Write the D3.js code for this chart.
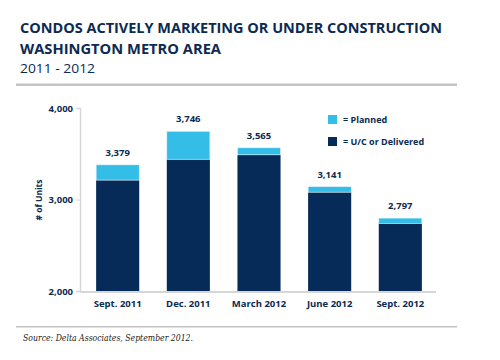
<!DOCTYPE html>
<html><head><meta charset="utf-8">
<script src="https://cdn.jsdelivr.net/npm/d3@7"></script>
<style>body{margin:0;background:#fff}svg{display:block}</style>
</head><body>
<script>
const categories = ["Sept. 2011","Dec. 2011","March 2012","June 2012","Sept. 2012"];
const ucDelivered = [3212, 3440, 3488, 3080, 2740];
const totals = [3379, 3746, 3565, 3141, 2797];
const planned = totals.map((t,i)=>t-ucDelivered[i]);
const yTicks = [2000, 3000, 4000];
const seriesNames = ["= Planned","= U/C or Delivered"];
const colors = {planned:"#34bde6", uc:"#072b58"};
const navy = "#0c2a52";

const W=500,H=360;
const svg=d3.select("body").append("svg").attr("width",W).attr("height",H);

// titles
const fontT = "'Open Sans', sans-serif";
svg.append("text").attr("x",20).attr("y",33).attr("font-family",fontT).attr("font-weight",700)
  .attr("font-size",15).attr("fill",navy).attr("textLength",422).attr("lengthAdjust","spacingAndGlyphs")
  .text("CONDOS ACTIVELY MARKETING OR UNDER CONSTRUCTION");
svg.append("text").attr("x",20).attr("y",54).attr("font-family",fontT).attr("font-weight",700)
  .attr("font-size",15).attr("fill",navy).attr("textLength",201).attr("lengthAdjust","spacingAndGlyphs")
  .text("WASHINGTON METRO AREA");
svg.append("text").attr("x",20).attr("y",73).attr("font-family",fontT)
  .attr("font-size",13).attr("fill",navy).attr("textLength",75).attr("lengthAdjust","spacingAndGlyphs")
  .text("2011 - 2012");
svg.append("rect").attr("x",16).attr("y",83.5).attr("width",441).attr("height",2.5).attr("fill","#c4c4c4");
svg.append("rect").attr("x",16).attr("y",326).attr("width",441).attr("height",1.5).attr("fill","#c4c4c4");
svg.append("text").attr("x",23).attr("y",341).attr("font-family","'DejaVu Serif', serif").attr("font-style","italic")
  .attr("font-size",9.5).attr("fill","#1a1a1a").attr("textLength",170).attr("lengthAdjust","spacingAndGlyphs")
  .text("Source: Delta Associates, September 2012.");

const x=d3.scaleBand().domain(categories).range([82,436]).paddingInner(0.39).paddingOuter(0.2);
const y=d3.scaleLinear().domain([2000,4000]).range([291,108]);

// axes
const gy=svg.append("g").attr("transform","translate(80,0)")
  .call(d3.axisLeft(y).tickValues(yTicks).tickFormat(d3.format(",")).tickSize(4));
gy.select(".domain").attr("stroke","#d6d6d6").attr("stroke-width",1.5);
gy.selectAll(".tick line").attr("stroke","#d6d6d6");
gy.selectAll(".tick text").attr("font-family",fontT).attr("font-weight",700).attr("font-size",9.5).attr("fill",navy).attr("x",-7);

const gx=svg.append("g").attr("transform","translate(0,291)")
  .call(d3.axisBottom(x).tickSize(0).tickPadding(9));
gx.select(".domain").remove();
gx.selectAll(".tick text").attr("font-family",fontT).attr("font-weight",700).attr("font-size",9.5).attr("fill",navy);
svg.append("line").attr("x1",80).attr("x2",436).attr("y1",292).attr("y2",292).attr("stroke","#d6d6d6").attr("stroke-width",2);

svg.append("text").attr("transform","translate(42,200) rotate(-90)").attr("text-anchor","middle")
  .attr("font-family",fontT).attr("font-weight",700).attr("font-size",8.5).attr("fill",navy).text("# of Units");

// bars
const g=svg.append("g");
categories.forEach((c,i)=>{
  g.append("rect").attr("x",x(c)).attr("width",x.bandwidth()).attr("y",y(ucDelivered[i]))
    .attr("height",y(2000)-y(ucDelivered[i])).attr("fill",colors.uc);
  g.append("rect").attr("x",x(c)).attr("width",x.bandwidth()).attr("y",y(totals[i]))
    .attr("height",y(ucDelivered[i])-y(totals[i])).attr("fill",colors.planned)
    .attr("stroke","#e8f6fb").attr("stroke-width",0.6);
  g.append("text").attr("x",x(c)+x.bandwidth()/2).attr("y",y(totals[i])-9).attr("text-anchor","middle")
    .attr("font-family",fontT).attr("font-weight",700).attr("font-size",9.5).attr("fill",navy)
    .text(d3.format(",")(totals[i]));
});

// legend
const leg=[{n:seriesNames[0],c:colors.planned,y:115},{n:seriesNames[1],c:colors.uc,y:137}];
leg.forEach(l=>{
  svg.append("rect").attr("x",328).attr("y",l.y).attr("width",9).attr("height",9).attr("fill",l.c);
  svg.append("text").attr("x",343).attr("y",l.y+8).attr("font-family",fontT).attr("font-weight",700)
    .attr("font-size",9).attr("fill",navy).text(l.n);
});
</script>
</body></html>
